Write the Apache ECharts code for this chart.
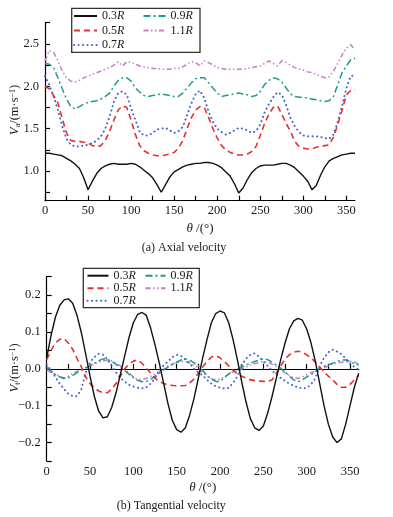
<!DOCTYPE html>
<html>
<head>
<meta charset="utf-8">
<script src="https://cdn.jsdelivr.net/npm/echarts@6/dist/echarts.min.js"></script>
<style>html,body{margin:0;padding:0;background:#fff}#c{width:393px;height:517px}</style>
</head>
<body>
<div id="c"></div>
<script>
// ---- data ----
const theta = [0,5,10,15,20,25,30,35,40,45,50,55,60,65,70,75,80,85,90,95,100,105,110,115,120,125,130,135,140,145,150,155,160,165,170,175,180,185,190,195,200,205,210,215,220,225,230,235,240,245,250,255,260,265,270,275,280,285,290,295,300,305,310,315,320,325,330,335,340,345,350,355,360];
const seriesNames = ['0.3R','0.5R','0.7R','0.9R','1.1R'];

// Axial velocity Va (m/s)
const va03 = [1.21,1.21,1.20,1.19,1.18,1.15,1.12,1.08,1.03,0.92,0.78,0.88,0.97,1.03,1.06,1.08,1.09,1.08,1.08,1.08,1.09,1.08,1.05,1.01,0.97,0.92,0.84,0.75,0.84,0.93,0.99,1.02,1.05,1.07,1.08,1.09,1.09,1.10,1.10,1.09,1.07,1.04,0.99,0.94,0.85,0.74,0.80,0.90,0.98,1.03,1.06,1.07,1.07,1.07,1.08,1.09,1.09,1.07,1.04,0.99,0.94,0.88,0.78,0.83,0.95,1.05,1.12,1.15,1.17,1.19,1.20,1.21,1.21];
const va05 = [2.00,1.97,1.89,1.80,1.62,1.45,1.36,1.35,1.35,1.34,1.33,1.30,1.29,1.30,1.36,1.47,1.60,1.72,1.77,1.75,1.60,1.43,1.30,1.24,1.21,1.19,1.18,1.18,1.19,1.20,1.22,1.27,1.36,1.50,1.63,1.72,1.76,1.75,1.63,1.50,1.39,1.30,1.25,1.22,1.20,1.19,1.19,1.20,1.23,1.29,1.42,1.56,1.67,1.75,1.77,1.67,1.56,1.47,1.35,1.29,1.27,1.26,1.26,1.28,1.29,1.30,1.31,1.40,1.55,1.72,1.90,1.95,1.96];
const va07 = [2.12,2.02,1.88,1.72,1.53,1.38,1.31,1.29,1.29,1.30,1.31,1.33,1.36,1.41,1.50,1.64,1.82,1.92,1.94,1.90,1.74,1.60,1.46,1.42,1.42,1.45,1.49,1.50,1.51,1.48,1.45,1.47,1.52,1.66,1.80,1.91,1.95,1.86,1.70,1.58,1.50,1.46,1.43,1.45,1.48,1.51,1.50,1.48,1.45,1.47,1.55,1.69,1.79,1.87,1.93,1.90,1.78,1.63,1.53,1.46,1.42,1.41,1.41,1.41,1.40,1.39,1.38,1.43,1.58,1.77,1.98,2.12,2.13];
const va09 = [2.27,2.26,2.22,2.10,1.97,1.85,1.76,1.73,1.76,1.79,1.81,1.82,1.83,1.85,1.88,1.92,2.00,2.07,2.10,2.10,2.06,1.98,1.93,1.89,1.88,1.89,1.90,1.91,1.90,1.89,1.88,1.88,1.92,1.98,2.04,2.09,2.10,2.10,2.04,1.98,1.92,1.88,1.89,1.90,1.91,1.92,1.91,1.90,1.88,1.89,1.94,2.02,2.07,2.10,2.09,2.05,1.98,1.91,1.88,1.87,1.87,1.86,1.85,1.84,1.83,1.82,1.83,1.88,2.02,2.16,2.24,2.31,2.33];
const va11 = [2.30,2.42,2.40,2.30,2.18,2.10,2.06,2.05,2.07,2.10,2.12,2.14,2.16,2.18,2.20,2.22,2.25,2.29,2.24,2.29,2.28,2.26,2.24,2.23,2.22,2.21,2.21,2.20,2.20,2.20,2.21,2.21,2.23,2.26,2.29,2.28,2.24,2.30,2.28,2.25,2.22,2.21,2.20,2.20,2.20,2.20,2.20,2.21,2.22,2.23,2.24,2.27,2.30,2.27,2.24,2.30,2.28,2.25,2.22,2.20,2.19,2.17,2.16,2.14,2.12,2.10,2.11,2.18,2.27,2.37,2.45,2.49,2.43];

// Tangential velocity Vt (m/s)
const vt03 = [0.03,0.09,0.14,0.172,0.187,0.19,0.178,0.145,0.098,0.04,-0.02,-0.075,-0.115,-0.133,-0.13,-0.105,-0.065,-0.015,0.035,0.085,0.125,0.148,0.153,0.145,0.11,0.065,0.015,-0.04,-0.095,-0.14,-0.165,-0.172,-0.16,-0.125,-0.08,-0.025,0.03,0.08,0.125,0.15,0.157,0.152,0.125,0.08,0.025,-0.035,-0.09,-0.135,-0.16,-0.167,-0.155,-0.12,-0.075,-0.025,0.025,0.07,0.108,0.13,0.137,0.132,0.108,0.07,0.02,-0.04,-0.1,-0.15,-0.185,-0.2,-0.19,-0.15,-0.1,-0.05,-0.012];
const vt05 = [0.025,0.05,0.07,0.08,0.082,0.07,0.053,0.028,0.005,-0.022,-0.04,-0.052,-0.06,-0.065,-0.065,-0.055,-0.04,-0.02,0.0,0.013,0.021,0.024,0.015,0.002,-0.012,-0.026,-0.034,-0.04,-0.044,-0.045,-0.046,-0.046,-0.045,-0.038,-0.028,-0.012,0.005,0.02,0.032,0.036,0.03,0.02,0.008,-0.004,-0.014,-0.02,-0.025,-0.03,-0.032,-0.033,-0.034,-0.034,-0.03,-0.012,0.008,0.027,0.038,0.045,0.048,0.045,0.038,0.03,0.018,0.005,-0.008,-0.02,-0.03,-0.042,-0.05,-0.05,-0.042,-0.03,-0.018];
const vt07 = [0.012,-0.005,-0.022,-0.04,-0.055,-0.068,-0.074,-0.074,-0.055,-0.01,0.018,0.032,0.041,0.038,0.026,0.008,-0.01,-0.024,-0.035,-0.043,-0.048,-0.051,-0.053,-0.05,-0.04,-0.025,-0.005,0.01,0.02,0.032,0.038,0.035,0.025,0.015,0.0,-0.01,-0.018,-0.03,-0.04,-0.047,-0.051,-0.053,-0.052,-0.038,-0.02,0.01,0.028,0.038,0.042,0.033,0.02,0.008,-0.005,-0.016,-0.025,-0.033,-0.04,-0.046,-0.05,-0.053,-0.052,-0.042,-0.026,0.008,0.03,0.045,0.052,0.047,0.04,0.028,0.015,0.005,-0.003];
const vt09 = [0.005,-0.006,-0.015,-0.022,-0.026,-0.024,-0.018,-0.01,-0.004,0.002,0.008,0.015,0.022,0.027,0.026,0.02,0.012,0.004,-0.004,-0.015,-0.024,-0.031,-0.035,-0.034,-0.028,-0.02,-0.012,-0.003,0.005,0.012,0.018,0.024,0.027,0.024,0.016,0.008,-0.004,-0.018,-0.028,-0.034,-0.034,-0.024,-0.014,-0.006,0.0,0.005,0.01,0.015,0.02,0.024,0.027,0.025,0.018,0.01,0.002,-0.008,-0.02,-0.03,-0.035,-0.03,-0.022,-0.016,-0.008,0.002,0.007,0.011,0.015,0.02,0.024,0.024,0.02,0.014,0.01];
const vt11 = [-0.003,-0.01,-0.015,-0.02,-0.025,-0.02,-0.012,-0.007,-0.002,0.004,0.009,0.014,0.018,0.021,0.024,0.022,0.016,0.008,-0.002,-0.011,-0.022,-0.029,-0.028,-0.026,-0.02,-0.014,-0.007,0.0,0.008,0.013,0.017,0.02,0.02,0.016,0.01,0.003,-0.01,-0.02,-0.027,-0.03,-0.029,-0.022,-0.014,-0.008,-0.004,0.0,0.005,0.01,0.014,0.018,0.02,0.018,0.013,0.006,-0.002,-0.01,-0.018,-0.024,-0.026,-0.022,-0.016,-0.01,-0.006,-0.001,0.003,0.008,0.013,0.016,0.018,0.019,0.02,0.019,0.012];

// tick values
const xLabels = [0,50,100,150,200,250,300,350];
const xTicks = [0,25,50,75,100,125,150,175,200,225,250,275,300,325,350];
const vaLabels = [1.0,1.5,2.0,2.5];
const vaTicks = [0.75,1.0,1.25,1.5,1.75,2.0,2.25,2.5,2.75];
const vtLabels = [-0.2,-0.1,0.0,0.1,0.2];
const vtTicks = [-0.25,-0.2,-0.15,-0.1,-0.05,0,0.05,0.1,0.15,0.2,0.25];

// ---- styles ----
const FONT = 'Liberation Serif';
const styles = [
  {color:'#111111', width:1.4, type:'solid'},
  {color:'#e8312f', width:1.6, type:[6,4]},
  {color:'#4262d2', width:2, type:[0.1,4.4], cap:'round'},
  {color:'#1d9c8c', width:1.5, type:[7,3,2,3]},
  {color:'#c97ccb', width:1.5, type:[5,2.5,1.5,2.5,1.5,2.5]}
];
const vaData = [va03,va05,va07,va09,va11];
const vtData = [vt03,vt05,vt07,vt09,vt11];

function mkSeries(arrs, idx){
  return arrs.map((arr,i)=>({
    name: seriesNames[i], type:'line', xAxisIndex:idx, yAxisIndex:idx,
    data: theta.map((t,k)=>[t, arr[k]]),
    symbol:'none', showSymbol:false, smooth:false, z: 10-i,
    lineStyle:{color:styles[i].color, width:styles[i].width, type:styles[i].type, cap:styles[i].cap||'butt'},
    itemStyle:{color:styles[i].color}
  }));
}
const fmtMinus = v => (v<0?'\u2212':'') + Math.abs(v).toFixed(1);

function xAxisCfg(idx, gap){
  return {
    type:'value', gridIndex:idx, min:0, max:360,
    axisLine:{show:true, lineStyle:{color:'#000', width:1.2}},
    axisTick:{show:true, inside:true, length:5, customValues:xTicks, lineStyle:{color:'#000', width:1.2}},
    axisLabel:{customValues:xLabels, fontFamily:FONT, fontSize:12.5, color:'#1a1a1a', margin:4},
    splitLine:{show:false},
    name:'{t|\u03b8} {n|/(\u00b0)}', nameLocation:'middle', nameGap:gap,
    nameTextStyle:{fontFamily:FONT, fontSize:13, color:'#1a1a1a',
      rich:{t:{fontFamily:FONT, fontStyle:'italic', fontSize:13}, n:{fontFamily:FONT, fontSize:13}}}
  };
}
function yAxisCfg(idx, min, max, labels, ticks){
  return {
    type:'value', gridIndex:idx, min:min, max:max,
    axisLine:{show:true, lineStyle:{color:'#000', width:1.2}},
    axisTick:{show:true, inside:true, length:5, customValues:ticks, lineStyle:{color:'#000', width:1.2}},
    axisLabel:{customValues:labels, formatter:fmtMinus, fontFamily:FONT, fontSize:12.5, color:'#1a1a1a', margin:6},
    splitLine:{show:false}
  };
}
const legendRich = {
  n:{fontFamily:FONT, fontSize:12, color:'#1a1a1a'},
  r:{fontFamily:FONT, fontSize:12, fontStyle:'italic', color:'#1a1a1a'}
};
function legendCfg(names, left, top, gap, iw){
  return {
    data:names, orient:'vertical', left:left, top:top, itemGap:gap, itemWidth:iw, itemHeight:12,
    padding:0, selectedMode:false,
    itemStyle:{opacity:0, borderWidth:0},
    formatter: n => '{n|' + n.slice(0,-1) + '}{r|R}',
    textStyle:{fontFamily:FONT, fontSize:12, lineHeight:12, rich:legendRich}
  };
}
function yTitle(sub, cx, cy){
  return {
    type:'text', x:cx, y:cy, rotation:Math.PI/2,
    style:{
      text:'{v|V}{s|'+sub+'}{n|/(m\u00b7s}{p|\u22121}{n|)}',
      align:'center', verticalAlign:'middle',
      rich:{
        v:{fontFamily:FONT, fontStyle:'italic', fontSize:13, fill:'#1a1a1a', lineHeight:13},
        s:{fontFamily:FONT, fontSize:8, fill:'#1a1a1a', verticalAlign:'bottom', lineHeight:13},
        n:{fontFamily:FONT, fontSize:12.5, fill:'#1a1a1a', lineHeight:13},
        p:{fontFamily:FONT, fontSize:8, fill:'#1a1a1a', verticalAlign:'top', lineHeight:13}
      }
    }
  };
}

const chart = echarts.init(document.getElementById('c'), null, {renderer:'canvas'});
chart.setOption({
  animation:false,
  backgroundColor:'#fff',
  grid:[
    {left:45, top:22.7, width:310, height:178, containLabel:false},
    {left:46.7, top:276.7, width:312, height:184.3, containLabel:false}
  ],
  xAxis:[xAxisCfg(0, 21), xAxisCfg(1, 20.5)],
  yAxis:[yAxisCfg(0, 0.65, 2.75, vaLabels, vaTicks), yAxisCfg(1, -0.25, 0.25, vtLabels, vtTicks)],
  legend:[
    legendCfg(['0.3R','0.5R','0.7R'], 73, 10, 2.5, 23),
    legendCfg(['0.9R','1.1R'], 142.5, 10, 2.5, 22),
    legendCfg(['0.3R','0.5R','0.7R'], 86.5, 269.7, 0.5, 21),
    legendCfg(['0.9R','1.1R'], 144.5, 269.7, 0.5, 20)
  ],
  graphic:[
    {type:'rect', shape:{x:71.7, y:8.3, width:128.3, height:44}, style:{fill:'none', stroke:'#333', lineWidth:1.3}, z:100},
    {type:'rect', shape:{x:83.3, y:268.3, width:116, height:39.4}, style:{fill:'none', stroke:'#333', lineWidth:1.3}, z:100},
    yTitle('a', 15, 110),
    yTitle('t', 15, 368),
    {type:'text', x:141.7, y:247.5, style:{text:'(a) Axial velocity', font:'12px "Liberation Serif"', fill:'#1a1a1a', verticalAlign:'middle'}},
    {type:'text', x:116.7, y:505.5, style:{text:'(b) Tangential velocity', font:'12px "Liberation Serif"', fill:'#1a1a1a', verticalAlign:'middle'}}
  ],
  series:[...mkSeries(vaData,0), ...mkSeries(vtData,1)]
});
</script>
</body>
</html>
